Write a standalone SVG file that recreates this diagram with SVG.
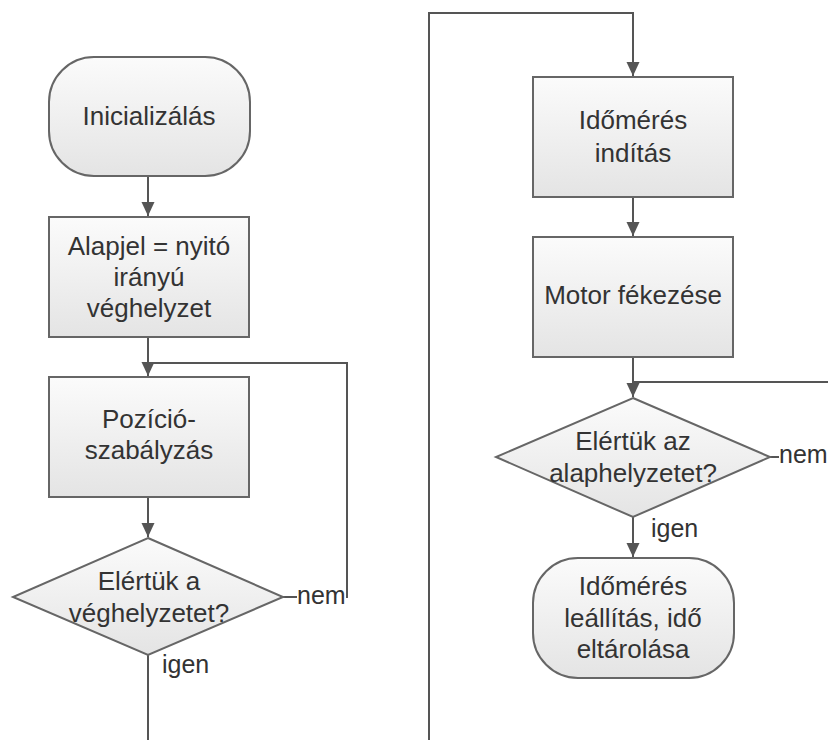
<svg xmlns="http://www.w3.org/2000/svg" width="828" height="740" viewBox="0 0 828 740">
<style>
.shape{stroke:#666;stroke-width:2;fill:url(#g)}
.t{font-family:"Liberation Sans",Arial,sans-serif;font-size:26px;fill:#333;text-anchor:middle}
.l{font-family:"Liberation Sans",Arial,sans-serif;font-size:25px;fill:#333}
.c{stroke:#555;stroke-width:2;fill:none}
.a{marker-end:url(#arr)}
</style>
<defs>
<linearGradient id="g" x1="0" y1="0" x2="0" y2="1">
<stop offset="0" stop-color="#fbfbfb"/>
<stop offset="1" stop-color="#e4e4e4"/>
</linearGradient>
<marker id="arr" markerUnits="userSpaceOnUse" markerWidth="16" markerHeight="16" viewBox="0 0 16 16" refX="15" refY="8" orient="auto">
<path d="M1,1.5 L15,8 L1,14.5 Z" fill="#555"/>
</marker>
</defs>
<rect width="828" height="740" fill="#fff"/>
<g id="connectors">
<path class="c a" d="M148,176 V216"/>
<path class="c a" d="M148,337 V376"/>
<path class="c" d="M283,597 H347 V363 H148"/>
<path class="c a" d="M148,497 V537"/>
<path class="c" d="M148,655 V740"/>
<path class="c a" d="M429,740 V13 H633 V76"/>
<path class="c a" d="M633,197 V236"/>
<path class="c a" d="M633,357 V397"/>
<path class="c" d="M828,382 H633"/>
<path class="c" d="M770,457 H828"/>
<path class="c a" d="M633,517 V557"/>
<rect x="297" y="584" width="49" height="26" fill="#fff"/>
<text class="l" x="297" y="604">nem</text>
<text class="l" x="162" y="673">igen</text>
<rect x="779" y="444" width="49" height="26" fill="#fff"/>
<text class="l" x="779" y="463">nem</text>
<text class="l" x="651" y="537">igen</text>
</g>
<g id="n1">
<rect class="shape" x="49" y="57" width="201" height="119" rx="45" ry="45"/>
<text class="t" x="149" y="125">Inicializálás</text>
</g>
<g id="n2">
<rect class="shape" x="49" y="217" width="200" height="120"/>
<text class="t" x="149" y="255">Alapjel = nyitó</text>
<text class="t" x="149" y="286">irányú</text>
<text class="t" x="149" y="317">véghelyzet</text>
</g>
<g id="n3">
<rect class="shape" x="49" y="377" width="200" height="120"/>
<text class="t" x="149" y="428">Pozíció-</text>
<text class="t" x="149" y="459">szabályzás</text>
</g>
<g id="n4">
<polygon class="shape" points="148,538 283,597 148,655 13,597"/>
<text class="t" x="149" y="590">Elértük a</text>
<text class="t" x="149" y="622">véghelyzetet?</text>
</g>
<g id="n5">
<rect class="shape" x="533" y="77" width="200" height="120"/>
<text class="t" x="633" y="129">Időmérés</text>
<text class="t" x="633" y="162">indítás</text>
</g>
<g id="n6">
<rect class="shape" x="533" y="237" width="200" height="120"/>
<text class="t" x="633" y="304">Motor fékezése</text>
</g>
<g id="n7">
<polygon class="shape" points="633,398 770,457 633,517 496,457"/>
<text class="t" x="633" y="450">Elértük az</text>
<text class="t" x="633" y="482">alaphelyzetet?</text>
</g>
<g id="n8">
<rect class="shape" x="533" y="558" width="201" height="120" rx="45" ry="45"/>
<text class="t" x="633" y="595">Időmérés</text>
<text class="t" x="633" y="627">leállítás, idő</text>
<text class="t" x="633" y="658">eltárolása</text>
</g>
</svg>
